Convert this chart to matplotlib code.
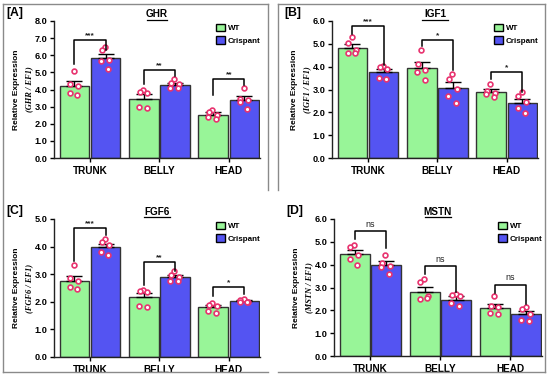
import matplotlib
matplotlib.use("Agg")
import matplotlib.pyplot as plt
import numpy as np
from matplotlib.patches import Patch
from matplotlib.lines import Line2D

plt.rcParams['font.family'] = ['Liberation Sans', 'DejaVu Sans']

categories = ["TRUNK", "BELLY", "HEAD"]
groups = ["WT", "Crispant"]

# Panel A: GHR
ghr_wt_mean = [4.20, 3.46, 2.54]
ghr_wt_err = [0.27, 0.26, 0.14]
ghr_cr_mean = [5.86, 4.26, 3.40]
ghr_cr_err = [0.23, 0.12, 0.22]
ghr_wt_pts = [[5.08, 4.30, 4.18, 3.79, 3.70], [3.95, 3.85, 3.80, 2.95, 2.90], [2.82, 2.68, 2.50, 2.40, 2.26]]
ghr_cr_pts = [[6.48, 6.28, 5.70, 5.66, 5.18], [4.59, 4.40, 4.34, 4.10, 4.09], [4.09, 3.46, 3.37, 3.27, 2.84]]
ghr_br_y = [6.90, 5.12, 4.59]
ghr_br_left = [5.50, 4.34, 3.66]
ghr_br_right = [6.28, 4.77, 4.24]
ghr_sig = ["***", "**", "**"]

# Panel B: IGF1
igf_wt_mean = [4.83, 3.94, 2.88]
igf_wt_err = [0.16, 0.25, 0.13]
igf_cr_mean = [3.77, 3.07, 2.42]
igf_cr_err = [0.11, 0.26, 0.18]
igf_wt_pts = [[5.28, 5.02, 4.72, 4.58, 4.62], [4.74, 4.10, 3.87, 3.77, 3.40], [3.22, 2.95, 2.85, 2.80, 2.65]]
igf_cr_pts = [[4.01, 3.99, 3.91, 3.50, 3.47], [3.66, 3.45, 3.04, 2.70, 2.41], [2.90, 2.72, 2.45, 2.20, 1.98]]
igf_br_y = [5.77, 5.18, 3.77]
igf_br_left = [5.45, 4.89, 3.47]
igf_br_right = [4.06, 3.84, 2.89]
igf_sig = ["***", "*", "*"]

# Panel C: FGF6
fgf_wt_mean = [2.77, 2.16, 1.80]
fgf_wt_err = [0.18, 0.15, 0.10]
fgf_cr_mean = [3.97, 2.90, 2.02]
fgf_cr_err = [0.13, 0.08, 0.04]
fgf_wt_pts = [[3.35, 2.86, 2.74, 2.52, 2.46], [2.44, 2.38, 2.36, 1.84, 1.80], [1.96, 1.90, 1.84, 1.65, 1.59]]
fgf_cr_pts = [[4.27, 4.15, 4.05, 3.80, 3.68], [3.10, 2.96, 2.89, 2.77, 2.74], [2.10, 2.08, 1.99, 1.98, 1.99]]
fgf_br_y = [4.67, 3.44, 2.54]
fgf_br_left = [3.47, 2.62, 2.20]
fgf_br_right = [4.41, 3.10, 2.29]
fgf_sig = ["***", "**", "*"]

# Panel D: MSTN
mstn_wt_mean = [4.47, 2.81, 2.11]
mstn_wt_err = [0.19, 0.20, 0.18]
mstn_cr_mean = [4.00, 2.47, 1.82]
mstn_cr_err = [0.18, 0.15, 0.15]
mstn_wt_pts = [[4.85, 4.78, 4.42, 4.25, 4.00], [3.39, 3.23, 2.62, 2.50, 2.52], [2.62, 2.18, 2.15, 1.89, 1.86]]
mstn_cr_pts = [[4.41, 4.08, 3.93, 3.89, 3.60], [2.72, 2.66, 2.62, 2.33, 2.18], [2.14, 2.08, 1.85, 1.56, 1.53]]
mstn_br_y = [5.46, 3.93, 3.13]
mstn_br_left = [5.14, 3.60, 2.77]
mstn_br_right = [4.73, 2.81, 2.26]
mstn_sig = ["ns", "ns", "ns"]

panels = [
    dict(tag="[A]", title="GHR", gene="GHR", ymax=8, rect=[54, 21, 260, 158],
         wt=(ghr_wt_mean, ghr_wt_err, ghr_wt_pts), cr=(ghr_cr_mean, ghr_cr_err, ghr_cr_pts),
         br=(ghr_br_y, ghr_br_left, ghr_br_right, ghr_sig)),
    dict(tag="[B]", title="IGF1", gene="IGF1", ymax=6, rect=[332, 21, 538, 158],
         wt=(igf_wt_mean, igf_wt_err, igf_wt_pts), cr=(igf_cr_mean, igf_cr_err, igf_cr_pts),
         br=(igf_br_y, igf_br_left, igf_br_right, igf_sig)),
    dict(tag="[C]", title="FGF6", gene="FGF6", ymax=5, rect=[54, 219, 260, 357],
         wt=(fgf_wt_mean, fgf_wt_err, fgf_wt_pts), cr=(fgf_cr_mean, fgf_cr_err, fgf_cr_pts),
         br=(fgf_br_y, fgf_br_left, fgf_br_right, fgf_sig)),
    dict(tag="[D]", title="MSTN", gene="MSTN", ymax=6, rect=[334, 219, 542, 356],
         wt=(mstn_wt_mean, mstn_wt_err, mstn_wt_pts), cr=(mstn_cr_mean, mstn_cr_err, mstn_cr_pts),
         br=(mstn_br_y, mstn_br_left, mstn_br_right, mstn_sig)),
]

W, H = 550, 377
fig = plt.figure(figsize=(W / 100, H / 100), dpi=100)

GREEN = "#98f598"
BLUE = "#5454f2"
EDGE = "#333333"
PT = "#e8336f"
jit = [-0.01, -0.06, 0.05, -0.07, 0.04]

def fx(px):
    return px / W

def fy(py):
    return 1 - py / H

# panel frames (gray)
frame_c = "#8a8a8a"
def fline(x0, y0, x1, y1):
    fig.add_artist(Line2D([fx(x0), fx(x1)], [fy(y0), fy(y1)], color=frame_c, lw=1.0))

fline(3, 4, 268, 4); fline(3, 4, 3, 372); fline(268, 4, 268, 190)
fline(278, 4, 545, 4); fline(278, 4, 278, 190); fline(545, 4, 545, 372)
fline(3, 372, 268, 372); fline(278, 372, 545, 372)

x = np.arange(len(categories))
off = 0.225
bw = 0.425

for p in panels:
    l, t, r, b = p["rect"]
    ax = fig.add_axes([fx(l), fy(b), fx(r - l), (b - t) / H])
    wm, we, wp = p["wt"]
    cm, ce, cp = p["cr"]
    ax.bar(x - off, wm, bw, color=GREEN, edgecolor=EDGE, linewidth=1.0, zorder=2)
    ax.bar(x + off, cm, bw, color=BLUE, edgecolor=EDGE, linewidth=1.0, zorder=2)
    ax.errorbar(x - off, wm, yerr=[np.zeros(3), we], fmt='none', ecolor='black',
                elinewidth=1.0, capsize=6, capthick=1.0, zorder=3)
    ax.errorbar(x + off, cm, yerr=[np.zeros(3), ce], fmt='none', ecolor='black',
                elinewidth=1.0, capsize=6, capthick=1.0, zorder=3)
    for i in range(3):
        ax.scatter(x[i] - off + np.array(jit), wp[i], s=12, facecolor='white',
                   edgecolor=PT, linewidth=1.2, zorder=4)
        ax.scatter(x[i] + off + np.array(jit), cp[i], s=12, facecolor='white',
                   edgecolor=PT, linewidth=1.2, zorder=4)
    by, bl, brr, sig = p["br"]
    for i in range(3):
        x0, x1 = x[i] - off, x[i] + off
        ax.plot([x0, x0, x1, x1], [bl[i], by[i], by[i], brr[i]], color='black', lw=1.1,
                zorder=5, clip_on=False)
        ns = sig[i] == "ns"
        ax.text(x[i], by[i] + p["ymax"] * (0.015 if ns else 0.005), sig[i], ha='center', va='bottom',
                fontsize=6.5 if ns else 6, fontweight='normal' if ns else 'bold', color='#222222')
    ax.set_xlim(-0.52, 2.45)
    ax.set_ylim(0, p["ymax"])
    ax.set_yticks(np.arange(0, p["ymax"] + 0.01, 1.0))
    ax.set_yticklabels([f"{v:.1f}" for v in np.arange(0, p["ymax"] + 0.01, 1.0)],
                       fontsize=6.6, fontweight='bold')
    ax.set_xticks(x)
    ax.set_xticklabels(categories, fontsize=7.2, fontweight='bold')
    ax.tick_params(axis='both', direction='out', length=3, width=1.0, pad=1.5, colors='black')
    ax.tick_params(axis='x', pad=3)
    for s in ['top', 'right']:
        ax.spines[s].set_visible(False)
    for s in ['left', 'bottom']:
        ax.spines[s].set_linewidth(1.0)
        ax.spines[s].set_color('#222222')
    ax.patch.set_alpha(0)
    # y label two lines
    cy = fy((t + b) / 2)
    fig.text(fx(l - 37), cy, "Relative Expression", rotation=90, ha='center', va='center',
             fontsize=6, fontweight='bold')
    fig.text(fx(l - 25), cy, f"({p['gene']} / EF1)", rotation=90, ha='center', va='center',
             fontsize=6, fontweight='bold', style='italic', family='Liberation Serif')
    # title
    fig.text(fx((l + r) / 2), fy(t - 7), p["title"], ha='center', va='center', fontsize=7.2,
             fontweight='bold')
    tw = len(p["title"]) * 6.2 + 2
    fig.add_artist(Line2D([fx((l + r) / 2 - tw / 2), fx((l + r) / 2 + tw / 2)],
                          [fy(t - 1.5), fy(t - 1.5)], color='black', lw=0.9))
    # tag
    fig.text(fx(l - 48), fy(t - 8), p["tag"], ha='left', va='center', fontsize=8.8,
             fontweight='bold')
    # legend
    handles = [Patch(facecolor=GREEN, edgecolor='black', linewidth=1.0),
               Patch(facecolor=BLUE, edgecolor='black', linewidth=1.0)]
    leg = ax.legend(handles, groups, loc='upper left',
                    bbox_to_anchor=((r - l - 44) / (r - l), 0.98), frameon=False,
                    prop=dict(size=5.8, weight='bold'), handlelength=1.1, handleheight=1.1,
                    handletextpad=0.4, labelspacing=0.45, borderpad=0, borderaxespad=0)

fig.savefig("out.png", dpi=100)
